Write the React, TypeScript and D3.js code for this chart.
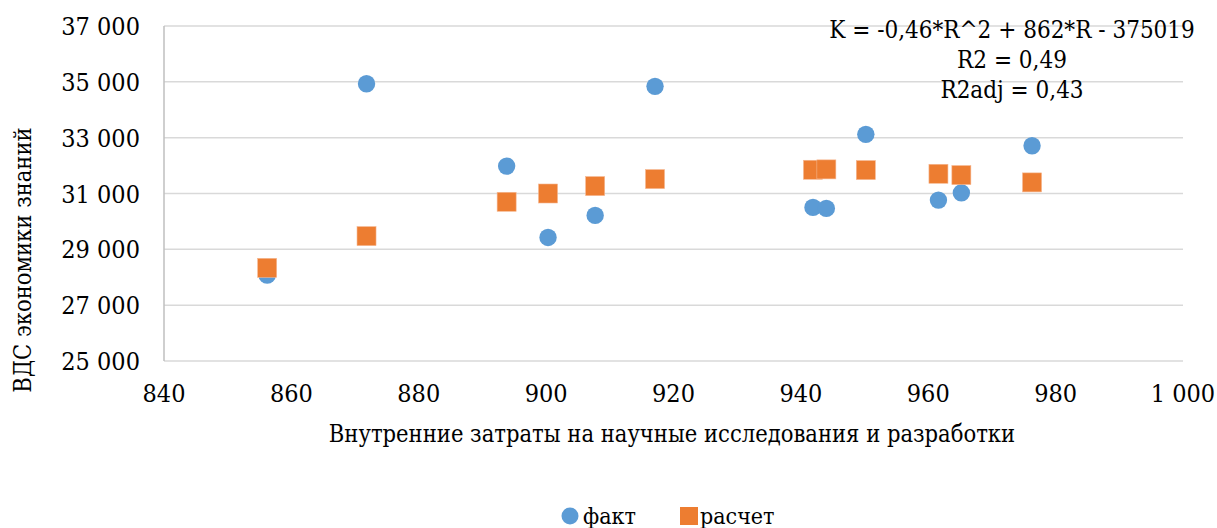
import React from "react";
import * as d3 from "d3";

const rdCosts = [856.2, 871.8, 893.8, 900.3, 907.7, 917.1, 941.9, 944.0, 950.2, 961.6, 965.2, 976.3];
const factValues = [28075, 34932, 31982, 29426, 30215, 34838, 30502, 30466, 33118, 30763, 31025, 32710];
const calcValues = [28337, 29473, 30703, 31000, 31265, 31516, 31850, 31864, 31839, 31706, 31660, 31398];
const xTicks = [840, 860, 880, 900, 920, 940, 960, 980, 1000];
const yTicks = [25000, 27000, 29000, 31000, 33000, 35000, 37000];
const equationLines = ["K = -0,46*R^2 + 862*R - 375019", "R2 = 0,49", "R2adj = 0,43"];
const seriesNames = ["факт", "расчет"];
const xTitle = "Внутренние затраты на научные исследования и разработки";
const yTitle = "ВДС экономики знаний";

const W = 1217;
const H = 528;
const FONT = "'DejaVu Serif Condensed', 'DejaVu Serif', serif";
const BLUE = "#5b9bd5";
const ORANGE = "#ed7d31";

const locale = d3.formatLocale({ decimal: ",", thousands: "\u00a0", grouping: [3], currency: ["", ""] });
const fmt = locale.format(",d");

const T = (props: any) => (
  <text {...props} style={{ fontFamily: FONT, fontStretch: "condensed" }} fill="#000" />
);

export default function App() {
  const x = d3.scaleLinear().domain([840, 1000]).range([164, 1183]);
  const y = d3.scaleLinear().domain([25000, 37000]).range([361, 26]);
  const sq = 19;
  return (
    <svg width={W} height={H} style={{ position: "absolute", left: 0, top: 0, background: "#fff" }}>
      {yTicks.map((t) => (
        <line key={"g" + t} x1={x(840)} x2={x(1000)} y1={y(t)} y2={y(t)} stroke="#d9d9d9" strokeWidth={1.5} />
      ))}
      <line x1={x(840)} x2={x(840)} y1={y(37000)} y2={y(25000)} stroke="#bfbfbf" strokeWidth={1.5} />
      {yTicks.map((t) => (
        <T key={"yl" + t} x={140} y={y(t)} dy="0.36em" textAnchor="end" fontSize={25}>
          {fmt(t)}
        </T>
      ))}
      {xTicks.map((t) => (
        <T key={"xl" + t} x={x(t)} y={402} textAnchor="middle" fontSize={25}>
          {fmt(t)}
        </T>
      ))}
      <T x={672} y={442} textAnchor="middle" fontSize={23.5}>{xTitle}</T>
      <T transform={`translate(31,260) rotate(-90)`} textAnchor="middle" fontSize={23.5}>{yTitle}</T>
      {rdCosts.map((r, i) => (
        <circle key={"f" + i} cx={x(r)} cy={y(factValues[i])} r={8.7} fill={BLUE} />
      ))}
      {rdCosts.map((r, i) => (
        <rect key={"c" + i} x={x(r) - sq / 2} y={y(calcValues[i]) - sq / 2} width={sq} height={sq} fill={ORANGE} stroke="#f5b690" strokeWidth={0.6} />
      ))}
      {equationLines.map((l, i) => (
        <T key={"eq" + i} x={1012} y={38 + i * 30} textAnchor="middle" fontSize={24}>{l}</T>
      ))}
      <circle cx={570} cy={516} r={8.5} fill={BLUE} />
      <T x={583} y={524} fontSize={23}>{seriesNames[0]}</T>
      <rect x={680} y={507} width={18} height={18} fill={ORANGE} />
      <T x={700} y={524} fontSize={23}>{seriesNames[1]}</T>
    </svg>
  );
}
